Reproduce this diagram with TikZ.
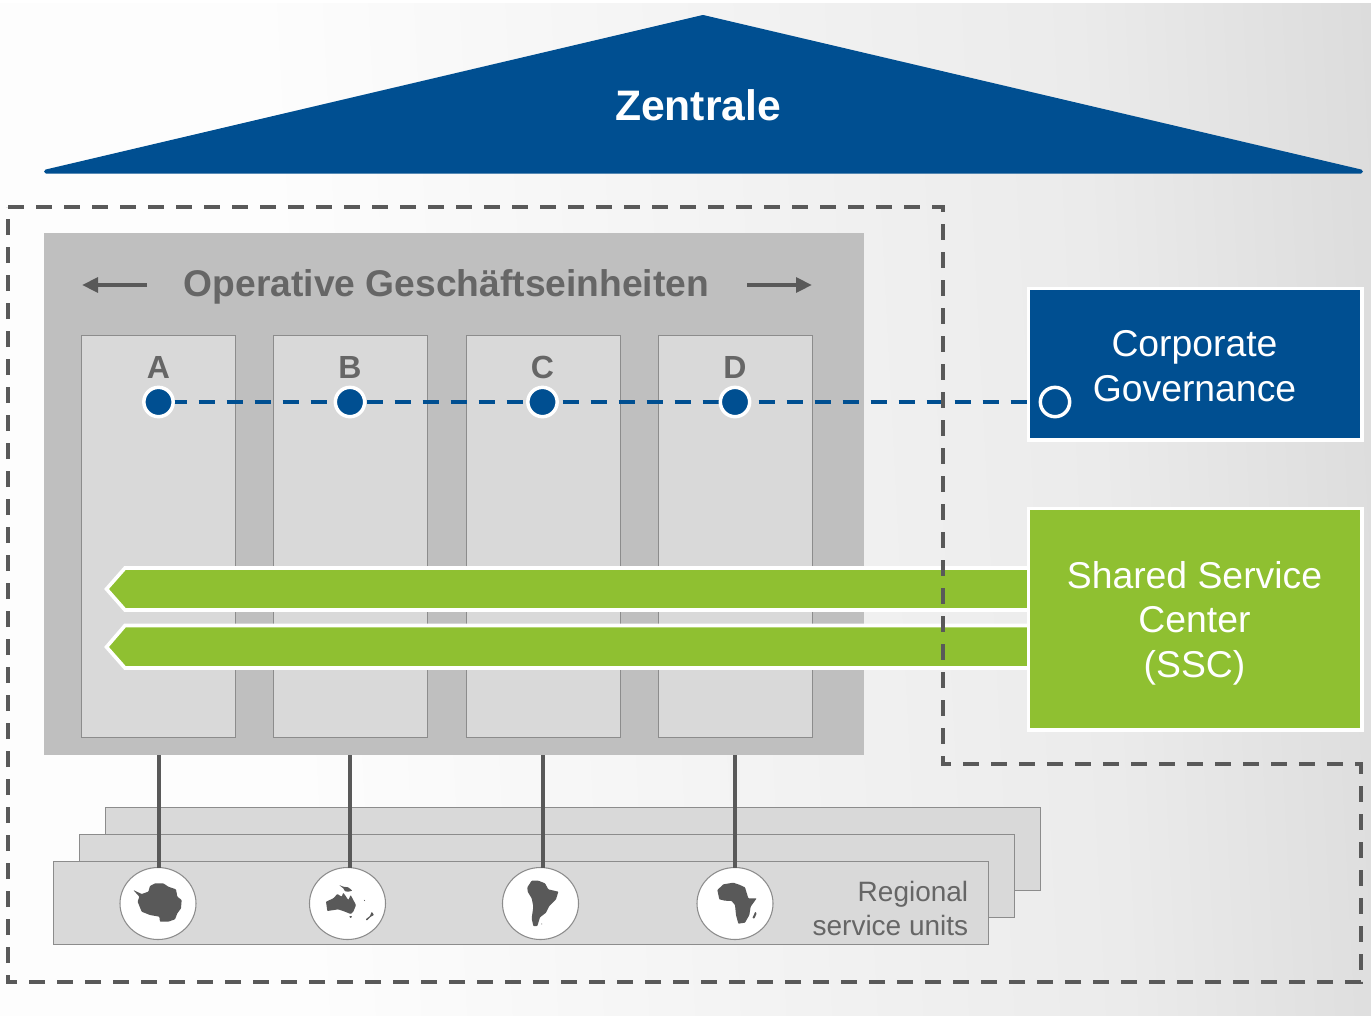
\documentclass[tikz,border=0pt]{standalone}
\usepackage{fontspec}
\setmainfont{Liberation Sans}
\usetikzlibrary{shapes.geometric,arrows.meta}
\definecolor{cblue}{HTML}{004F91}
\definecolor{cgreen}{HTML}{8FC031}
\definecolor{cpanel}{HTML}{BFBFBF}
\definecolor{clight}{HTML}{D9D9D9}
\definecolor{cedge}{HTML}{8C8C8C}
\definecolor{cdark}{HTML}{595959}
\definecolor{ctext}{HTML}{666666}
\definecolor{bga}{HTML}{FDFDFD}
\definecolor{bgb}{HTML}{EBEBEB}
\definecolor{bgc}{HTML}{DCDCDC}
\pgfdeclarelayer{dots}
\pgfsetlayers{main,dots}
\pgfdeclarehorizontalshading{bgshade}{100bp}{color(0bp)=(bga); color(35bp)=(bga); color(65.4bp)=(bgb); color(76.3bp)=(bgc); color(100bp)=(bgc)}
\tikzset{
  roof/.style={fill=cblue,draw=cblue,line width=3pt,line join=round},
  bigbox/.style={draw=white,line width=2.8pt,inner sep=0pt,outer sep=0pt,text=white,align=center},
  colbox/.style={draw=cedge,fill=clight,line width=.7pt},
  stackbox/.style={draw=cedge,fill=clight,line width=.8pt},
  lane/.style={draw=white,fill=cgreen,line width=2.7pt,line join=miter},
  dot/.style={circle,draw=white,fill=cblue,line width=2.6pt,minimum size=22pt,inner sep=0pt,outer sep=0pt},
  bluedash/.style={draw=cblue,line width=3pt,dash pattern=on 12pt off 9pt},
  greydash/.style={draw=cdark,line width=3pt,dash pattern=on 12pt off 9pt},
  stem/.style={draw=cdark,line width=3pt},
  globe/.style={ellipse,draw=cedge,fill=white,line width=.8pt,minimum width=57pt,minimum height=54pt,inner sep=0pt,outer sep=0pt},
  land/.style={fill=cdark,draw=none,rounded corners=.5pt},
  lanearrow/.style={draw=cdark,line width=3.2pt,-{Triangle[length=12pt,width=11pt]}},
  letter/.style={font=\bfseries\fontsize{24}{24}\selectfont,text=ctext},
}
\begin{document}
\begin{tikzpicture}[x=.75pt,y=-.75pt]
\useasboundingbox (0,0) rectangle (1371,1015);
\shade[shading=bgshade,shading angle=3] (0,3) rectangle (1371,1015);
% roof
\draw[roof] (703,17) -- (1361,171.5) -- (46,171.5) -- cycle;
\node[text=white,font=\bfseries\fontsize{32}{32}\selectfont] (zentrale) at (698,105) {Zentrale};
% panel and columns
\node[fill=cpanel,minimum width=615pt,minimum height=391.5pt,inner sep=0pt,outer sep=0pt,anchor=north west] (panel) at (44,233) {};
\node[font=\bfseries\fontsize{27.9}{27.9}\selectfont,text=ctext] (title) at (446.5,286.5) {Operative Geschäftseinheiten};
\coordinate (la1) at (147,285); \coordinate (la2) at (82,285);
\coordinate (ra1) at (747,285); \coordinate (ra2) at (812,285);
\draw[lanearrow] (la1) -- (la2);
\draw[lanearrow] (ra1) -- (ra2);
\draw[colbox] (81.5,335.5) rectangle (235.5,737.5);
\draw[colbox] (273.5,335.5) rectangle (427.5,737.5);
\draw[colbox] (466,335.5) rectangle (620,737.5);
\draw[colbox] (658,335.5) rectangle (812.5,737.5);
\node[letter] (la) at (158.5,367.5) {A};
\node[letter] (lb) at (350,367.5) {B};
\node[letter] (lc) at (542.5,367.5) {C};
\node[letter] (ld) at (735,367.5) {D};
% stacked regional boxes
\draw[stackbox] (105.5,807.5) rectangle (1040.5,890.5);
\draw[stackbox] (79.5,834.5) rectangle (1014.5,917.5);
\draw[stackbox] (53.5,861.5) rectangle (988.5,944.5);
\node[font=\fontsize{21}{25}\selectfont,text=ctext,align=right,anchor=east,inner sep=0pt] (regional) at (968.5,908.5) {Regional\\service units};
% green lanes
\draw[lane] (1032,568) -- (125,568) -- (106.5,589) -- (125,610) -- (1032,610);
\draw[lane] (1032,625.5) -- (125,625.5) -- (106.5,647) -- (125,668) -- (1032,668);
% right boxes
\node[bigbox,fill=cblue,minimum width=250pt,minimum height=113.5pt,anchor=north west] (cg) at (1028.5,288.5) {};
\node[font=\fontsize{28}{33.5}\selectfont,text=white,align=center] (cgt) at (1194.5,366) {Corporate\\Governance};
\node[bigbox,fill=cgreen,minimum width=250pt,minimum height=166pt,anchor=north west] (ssc) at (1028.5,508.5) {};
\node[font=\fontsize{28}{33.5}\selectfont,text=white,align=center] (ssct) at (1194.5,623) {Shared Service\\Center\\(SSC)};
% governance dots
\begin{pgfonlayer}{dots}
\node[dot] (da) at (158.5,402) {};
\node[dot] (db) at (350,402) {};
\node[dot] (dc) at (542.5,402) {};
\node[dot] (dd) at (735,402) {};
\node[dot] (dg) at (1055,402) {};
\end{pgfonlayer}
\draw[bluedash,dash phase=2pt] (da.east) -- (dg.west);
% dashed frame
\draw[greydash] (8,207) -- (943,207) -- (943,764) -- (1361,764) -- (1361,982) -- (8,982) -- cycle;
% globes
\node[globe] (ga) at (158,903.5) {};
\node[globe] (gb) at (347.5,903.5) {};
\node[globe] (gc) at (540.5,903.5) {};
\node[globe] (gd) at (735,903.5) {};
\draw[stem] (da |- panel.south) -- (da |- ga.north);
\draw[stem] (db |- panel.south) -- (db |- gb.north);
\draw[stem] (dc |- panel.south) -- (dc |- gc.north);
\draw[stem] (dd |- panel.south) -- (dd |- gd.north);
% continents (units: 3x zoom)
\begin{scope}[shift={(100,850)},x=.25pt,y=-.25pt]
\fill[land] (100,120)--(125,132)--(145,125)--(150,108)--(165,100)--(190,100)--(205,110)--(228,118)--(232,140)--(245,150)--(243,175)--(232,190)--(225,208)--(205,215)--(180,215)--(178,200)--(150,195)--(125,185)--(113,155)--(118,140)--cycle;
\fill[land] (678,155)--(700,145)--(712,132)--(725,140)--(730,128)--(745,150)--(752,135)--(768,165)--(760,185)--(752,192)--(735,185)--(715,178)--(682,183)--cycle;
\fill[land] (717,105)--(730,110)--(745,112)--(757,122)--(745,125)--(735,124)--(730,115)--cycle;
\fill[land] (748,198)--(756,198)--(754,204)--(749,203)--cycle;
\fill[land] (815,185)--(822,195)--(812,200)--(800,212)--(797,208)--(810,198)--cycle;
\fill[land] (791,148)--(796,152)--(794,154)--cycle;
\end{scope}
\begin{scope}[shift={(480,850)},x=.25pt,y=-.25pt]
\fill[land] (155,92)--(175,92)--(195,100)--(205,118)--(235,125)--(228,148)--(208,168)--(198,188)--(180,202)--(172,228)--(160,228)--(155,205)--(160,170)--(155,145)--(143,125)--(142,112)--cycle;
\fill[land] (182,221)--(188,221)--(186,224)--cycle;
\fill[land] (712,120)--(730,103)--(760,98)--(780,105)--(795,112)--(805,145)--(830,145)--(812,170)--(808,195)--(795,218)--(775,221)--(768,195)--(765,165)--(755,153)--(735,152)--(718,148)--cycle;
\fill[land] (826,185)--(830,190)--(823,206)--(817,204)--cycle;
\end{scope}
\end{tikzpicture}
\end{document}
